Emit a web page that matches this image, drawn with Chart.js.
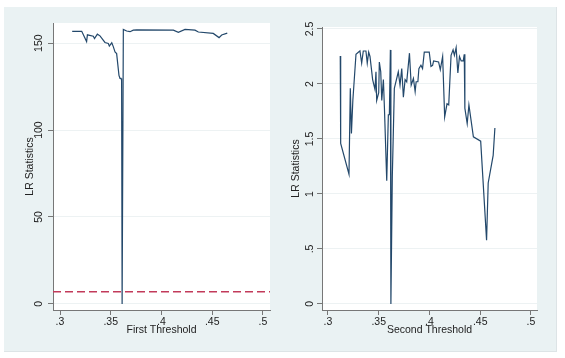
<!DOCTYPE html>
<html>
<head>
<meta charset="utf-8">
<script src="https://cdn.jsdelivr.net/npm/chart.js@4.4.1/dist/chart.umd.min.js"></script>
<style>
  html, body { margin: 0; padding: 0; background: #fff; }
  body { width: 565px; height: 358px; position: relative; overflow: hidden; }
  .panel-bg {
    position: absolute; left: 4px; top: 7px; width: 552px; height: 344px;
    background: #eaf2f3; border-right: 1px solid #dde4e6; border-bottom: 1px solid #dde4e6;
  }
  canvas { position: absolute; top: 7px; }
  #chartFirst { left: 4px; }
  #chartSecond { left: 285px; }
</style>
</head>
<body>
<div class="panel-bg"></div>
<canvas id="chartFirst" width="281" height="345"></canvas>
<canvas id="chartSecond" width="272" height="345"></canvas>
<script>
// first threshold LR statistics
const firstX = [0.312, 0.3214, 0.3262, 0.327, 0.3328, 0.334, 0.3368, 0.3394, 0.3443, 0.3476,
  0.3486, 0.351, 0.3525, 0.3542, 0.3558, 0.3581, 0.3591, 0.3601, 0.3607, 0.3612, 0.3624,
  0.3657, 0.369, 0.3722, 0.3756, 0.4117, 0.4166, 0.4232, 0.433, 0.4363, 0.451, 0.4567,
  0.4593, 0.4648];
const firstLR = [156.8, 156.8, 150.9, 154.8, 154, 152.7, 155.2, 154.2, 150.4, 149.8,
  148.3, 150.2, 148, 145, 144, 131.5, 129.7, 129.7, 128.5, 0, 157.9,
  157, 156.6, 157.5, 157.7, 157.5, 156.2, 157.9, 157.5, 156.4, 155.6, 153.2,
  154.7, 155.8];
const firstCritical = 7.0;

// second threshold LR statistics
const secondX = [0.3121, 0.3125, 0.3207, 0.322, 0.3231, 0.3245, 0.3276, 0.3302, 0.3315, 0.3332,
  0.3348, 0.3374, 0.3387, 0.3401, 0.3414, 0.344, 0.3463, 0.3473, 0.348, 0.35,
  0.3506, 0.352, 0.353, 0.3546, 0.3556, 0.3579, 0.3595, 0.3605, 0.3615, 0.362,
  0.3634, 0.3654, 0.3693, 0.371, 0.3727, 0.3743, 0.376, 0.3776, 0.3803, 0.382,
  0.3842, 0.3859, 0.3869, 0.3886, 0.3896, 0.3916, 0.3932, 0.3949, 0.3998, 0.4015,
  0.4031, 0.4041, 0.409, 0.4107, 0.413, 0.415, 0.4173, 0.419, 0.4213, 0.4233,
  0.4246, 0.4263, 0.428, 0.4296, 0.4313, 0.4333, 0.4343, 0.4349, 0.4372, 0.4389,
  0.4433, 0.4505, 0.4563, 0.4579, 0.4628, 0.4645];
const secondLR = [2.255, 1.46, 1.18, 1.96, 1.55, 1.85, 2.27, 2.29, 2.3, 2.19,
  2.3, 2.3, 2.19, 2.29, 2.25, 2.04, 1.95, 2.11, 1.85, 1.92,
  2.2, 2.11, 1.85, 2.04, 1.79, 1.12, 1.72, 1.72, 2.31, 0,
  1.16, 1.96, 2.11, 1.99, 2.14, 1.88, 2.04, 2.02, 2.28, 1.99,
  2.05, 1.93, 2.02, 2.02, 2.14, 2.17, 2.14, 2.29, 2.29, 2.16,
  2.17, 2.21, 2.2, 2.13, 2.25, 1.7, 1.82, 1.81, 2.26, 2.31,
  2.26, 2.33, 2.1, 2.25, 2.21, 2.21, 2.27, 1.78, 1.64, 1.81,
  1.52, 1.48, 0.58, 1.1, 1.35, 1.6];

const xTicks = [0.3, 0.35, 0.4, 0.45, 0.5];
const xTickLabels = [".3", ".35", ".4", ".45", ".5"];
const firstYTicks = [0, 50, 100, 150];
const firstYTickLabels = ["0", "50", "100", "150"];
const secondYTicks = [0, 0.5, 1, 1.5, 2, 2.5];
const secondYTickLabels = ["0", ".5", "1", "1.5", "2", "2.5"];

const FONT = "'Liberation Sans', Arial, sans-serif";
const lineColor = "#23486b";

const plotBg = {
  id: "plotBg",
  beforeDraw(chart) {
    const { ctx, chartArea: a } = chart;
    ctx.save();
    ctx.fillStyle = "#ffffff";
    ctx.fillRect(a.left, a.top, a.right - a.left, a.bottom - a.top);
    ctx.restore();
  },
};

function toPoints(xs, ys) {
  return xs.map((x, i) => ({ x: x, y: ys[i] }));
}

function makeChart(el, cfg) {
  return new Chart(el, {
    type: "line",
    data: { datasets: cfg.datasets },
    plugins: [plotBg],
    options: {
      responsive: false,
      animation: false,
      layout: { padding: cfg.padding },
      plugins: { legend: { display: false }, tooltip: { enabled: false } },
      elements: { point: { radius: 0 }, line: { tension: 0 } },
      scales: {
        x: {
          type: "linear",
          min: cfg.xMin,
          max: cfg.xMax,
          afterBuildTicks: (s) => { s.ticks = xTicks.map((v) => ({ value: v })); },
          afterFit: (s) => { s.height = 42; },
          ticks: {
            autoSkip: false,
            maxRotation: 0,
            padding: 1,
            color: "#222",
            font: { family: FONT, size: 10.5 },
            callback: (v, i) => xTickLabels[i],
          },
          grid: { drawOnChartArea: false, tickLength: 5, tickColor: "#777" },
          border: { color: "#777" },
          title: {
            display: true,
            text: cfg.xTitle,
            color: "#222",
            font: { family: FONT, size: 10.5 },
            padding: { top: 0, bottom: 16 },
          },
        },
        y: {
          min: cfg.yMin,
          max: cfg.yMax,
          afterBuildTicks: (s) => { s.ticks = cfg.yTicks.map((v) => ({ value: v })); },
          afterFit: (s) => { s.width = cfg.yWidth; },
          ticks: {
            autoSkip: false,
            minRotation: 90,
            maxRotation: 90,
            crossAlign: "center",
            padding: 0,
            color: "#222",
            font: { family: FONT, size: 10.5 },
            callback: (v, i) => cfg.yTickLabels[i],
          },
          grid: { color: "#edf2f3", tickLength: 5, tickColor: "#777" },
          border: { color: "#777" },
          title: {
            display: true,
            text: "LR Statistics",
            color: "#222",
            font: { family: FONT, size: 10.5 },
            padding: { top: cfg.yTitlePad, bottom: 0 },
          },
        },
      },
    },
  });
}

makeChart(document.getElementById("chartFirst"), {
  padding: { left: 0, top: 16, right: 15, bottom: 0 },
  yWidth: 49,
  yTitlePad: 19.5,
  xMin: 0.2931,
  xMax: 0.5069,
  yMin: -3.5,
  yMax: 161.6,
  yTicks: firstYTicks,
  yTickLabels: firstYTickLabels,
  xTitle: "First Threshold",
  datasets: [
    {
      data: toPoints(firstX, firstLR),
      borderColor: lineColor,
      borderWidth: 1.2,
    },
    {
      data: toPoints([0.2931, 0.5069], [firstCritical, firstCritical]),
      borderColor: "#c23a5a",
      borderWidth: 1.3,
      borderDash: [8, 4],
    },
  ],
});

makeChart(document.getElementById("chartSecond"), {
  padding: { left: 0, top: 20, right: 20, bottom: 0 },
  yWidth: 37,
  yTitlePad: 5,
  xMin: 0.2941,
  xMax: 0.506,
  yMin: -0.055,
  yMax: 2.518,
  yTicks: secondYTicks,
  yTickLabels: secondYTickLabels,
  xTitle: "Second Threshold",
  datasets: [
    {
      data: toPoints(secondX, secondLR),
      borderColor: lineColor,
      borderWidth: 1.2,
    },
  ],
});
</script>
</body>
</html>
